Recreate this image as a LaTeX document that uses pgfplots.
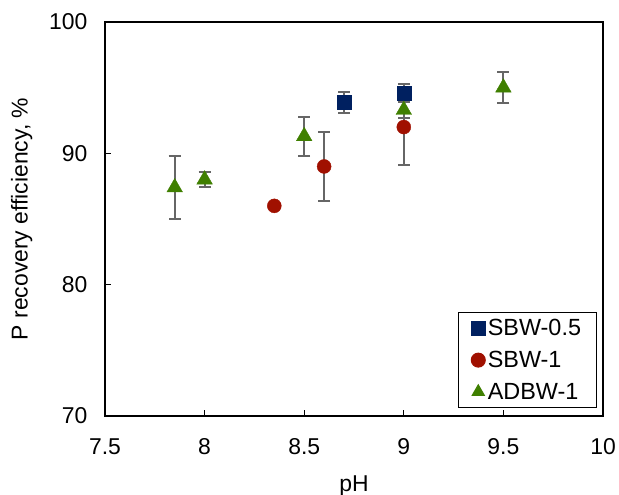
\documentclass[border=0pt]{standalone}
\usepackage{pgfplots}
\pgfplotsset{compat=1.18}
\usepackage{fontspec}
\setmainfont{Liberation Sans}
\definecolor{cnavy}{HTML}{002060}
\definecolor{cred}{HTML}{A01000}
\definecolor{cgreen}{HTML}{3F7F00}
\definecolor{cerr}{HTML}{666666}
\begin{document}
\begin{tikzpicture}
\begin{axis}[
  scale only axis,
  width=498bp, height=394bp,
  xmin=7.5, xmax=10, ymin=70, ymax=100,
  xtick={7.5,8,8.5,9,9.5,10},
  ytick={70,80,90,100},
  xticklabels={7.5,8,8.5,9,9.5,10},
  yticklabels={70,80,90,100},
  tick align=inside,
  xtick pos=bottom, ytick pos=left,
  major tick length=6bp,
  tick style={black, line width=1.2bp},
  axis line style={black, line width=1.4bp},
  ticklabel style={font=\fontsize{23}{26}\selectfont},
  xticklabel style={yshift=-19bp},
  yticklabel style={xshift=-14bp},
  xlabel={pH}, ylabel={P recovery efficiency, \%},
  label style={font=\fontsize{23}{26}\selectfont},
  xlabel style={yshift=-14bp},
  ylabel style={yshift=10bp},
  legend style={at={(rel axis cs:0.988,0.02)}, anchor=south east,
    draw=black, line width=1bp, font=\fontsize{23.5}{26}\selectfont,
    row sep=10bp, inner xsep=13bp, inner ysep=5bp,
    nodes={inner xsep=2.5bp}},
  legend cell align=left,
  legend image code/.code={\draw[#1, mark size=7bp] plot coordinates {(0.25cm,0cm)};},
  error bars/error bar style={cerr, line width=2bp},
  error bars/error mark options={rotate=90, mark size=6bp, cerr, line width=2bp},
]
\addplot[only marks, mark=square*, mark size=7bp, color=cnavy,
  error bars/.cd, y dir=both, y explicit]
  coordinates {(8.7,93.9) +- (0,0.8) (9.0,94.6) +- (0,0.65)};
\addlegendentry{SBW-0.5}
\addplot[only marks, mark=*, mark size=7bp, color=cred,
  error bars/.cd, y dir=both, y explicit]
  coordinates {(8.35,86.0) +- (0,0.15) (8.6,89.0) +- (0,2.6) (9.0,92.0) +- (0,2.9)};
\addlegendentry{SBW-1}
\addplot[only marks, mark=triangle*, mark size=9bp, color=cgreen,
  error bars/.cd, y dir=both, y explicit]
  coordinates {(7.85,87.4) +- (0,2.4) (8.0,88.0) +- (0,0.6) (8.5,91.3) +- (0,1.5) (9.0,93.3) +- (0,0.6) (9.5,95.0) +- (0,1.2)};
\addlegendentry{ADBW-1}
\end{axis}
\pgfresetboundingbox
\path[use as bounding box] (-105bp,-79bp) rectangle (514bp,416bp);
\end{tikzpicture}
\end{document}
